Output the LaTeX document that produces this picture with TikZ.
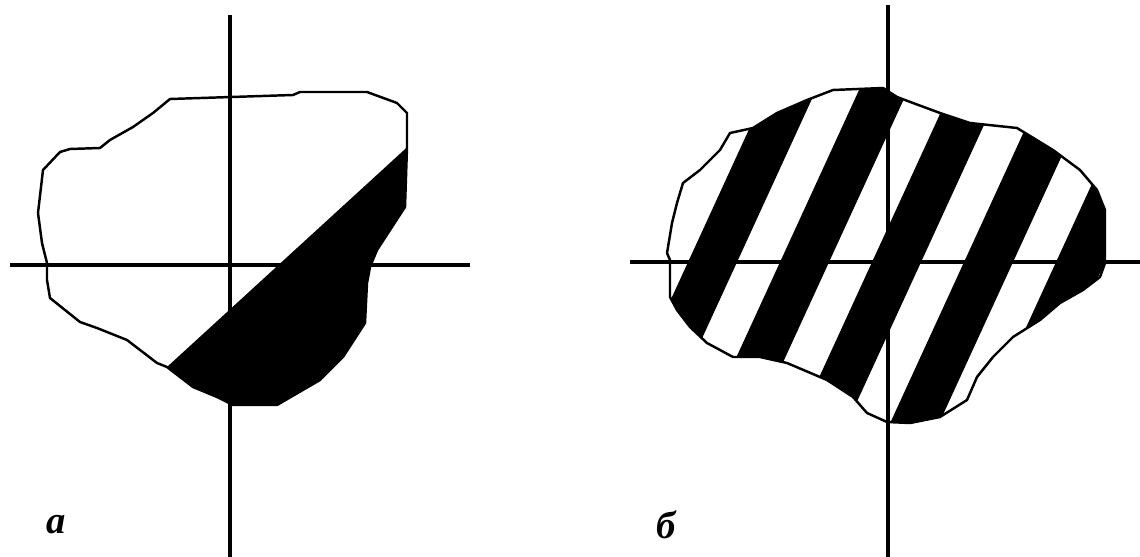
\documentclass[tikz,border=0pt]{standalone}
\definecolor{PInk}{HTML}{000000}
\definecolor{PPaper}{HTML}{FFFFFF}
\usepackage{fontspec}
\setmainfont{Liberation Serif}
\usepackage{tikz}
\usetikzlibrary{calc}
\tikzset{
  axisline/.style={draw=PInk,line width=2.2pt},
  blobline/.style={draw=PInk,line width=1.4pt,line join=round},
  inkfill/.style={fill=PInk,draw=none},
  panellabel/.style={font=\fontsize{22}{26}\selectfont\bfseries\itshape,text=PInk,inner sep=0pt}
}
\begin{document}
\begin{tikzpicture}[x=0.02cm,y=-0.02cm]
  \fill[PPaper] (0,0) rectangle (1140,557);
  \useasboundingbox (0,0) rectangle (1140,557);
  % panel a: blob with one dark segment
  \path[save path=\blobA]
    (170,99) -- (293,95) -- (300,92) -- (367,92) -- (397,103) -- (407,113)
    -- (407,147) -- (405,207) -- (377,250) -- (370,267) -- (367,283)
    -- (365,323) -- (343,357) -- (320,380) -- (277,405) -- (233,405)
    -- (217,397) -- (193,387) -- (167,367) -- (157,363) -- (127,340)
    -- (97,328) -- (80,322) -- (50,298) -- (47,280) -- (47,263)
    -- (42,243) -- (38,213) -- (43,170) -- (60,152) -- (70,149)
    -- (100,148) -- (110,140) -- (133,127) -- (153,113) -- cycle;
  \begin{scope}
    \clip[use path=\blobA];
    \fill[inkfill] (120,410) -- (450,108) -- (500,108) -- (500,500) -- (120,500) -- cycle;
  \end{scope}
  \path[blobline,use path=\blobA];
  % panel b: blob with slanted stripes
  \path[save path=\blobB]
    (833,90) -- (883,88) -- (897,97) -- (913,103) -- (940,113) -- (970,123)
    -- (1017,128) -- (1053,150) -- (1080,170) -- (1097,190) -- (1105,210)
    -- (1105,263) -- (1100,277) -- (1083,290) -- (1060,303) -- (1040,320)
    -- (1013,337) -- (993,357) -- (977,377) -- (967,400) -- (940,417)
    -- (910,423) -- (887,422) -- (867,413) -- (853,397) -- (827,380)
    -- (787,363) -- (760,357) -- (733,357) -- (707,343) -- (690,327)
    -- (677,310) -- (670,297) -- (670,260) -- (667,253) -- (672,223)
    -- (677,203) -- (683,183) -- (700,170) -- (720,150) -- (730,133)
    -- (753,128) -- (777,113) -- (807,100) -- cycle;
  \begin{scope}
    \clip[use path=\blobB];
    \foreach \x in {688,780,872,964,1056}
      \fill[inkfill] ({\x+102},40) -- ++(49,0) -- ({\x-51},480) -- ++(-49,0) -- cycle;
  \end{scope}
  \path[blobline,use path=\blobB];
  % axes
  \coordinate (aN) at (230,15);
  \coordinate (aS) at (230,557);
  \coordinate (aW) at (10,265);
  \coordinate (aE) at (470,265);
  \coordinate (bN) at (888,5);
  \coordinate (bS) at (888,557);
  \coordinate (bW) at (630,262);
  \coordinate (bE) at (1140,262);
  \draw[axisline] (aN) -- (aS);
  \draw[axisline] (aW) -- (aE);
  \draw[axisline] (bN) -- (bS);
  \draw[axisline] (bW) -- (bE);
  % labels
  \node[panellabel] (labA) at (56,525) {a};
  \node[panellabel] (labB) at (666,525) {б};
\end{tikzpicture}
\end{document}
